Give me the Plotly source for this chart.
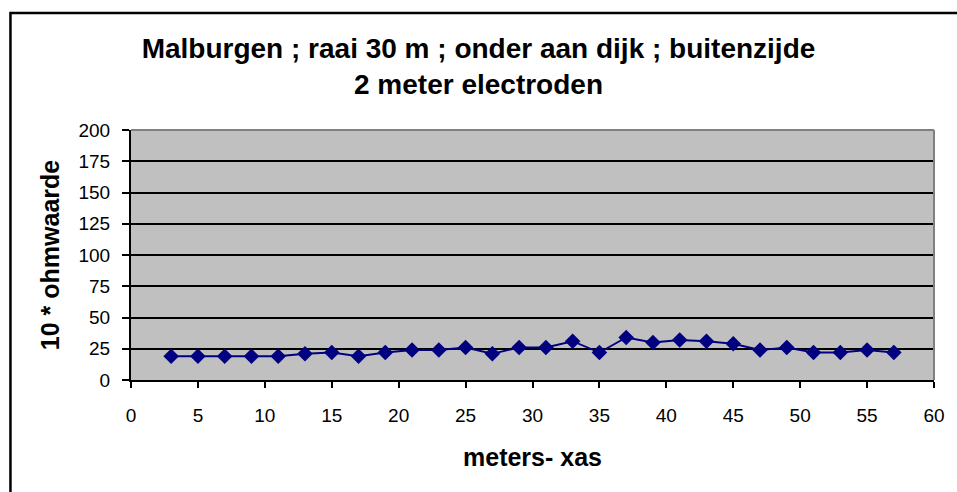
import plotly.graph_objects as go

x_m = [3, 5, 7, 9, 11, 13, 15, 17, 19, 21, 23, 25, 27, 29, 31, 33, 35, 37, 39, 41, 43, 45, 47, 49, 51, 53, 55, 57]
ohm10 = [19, 19, 19, 19, 19, 21, 22, 19, 22, 24, 24, 26, 21, 26, 26, 31, 22, 34, 30, 32, 31, 29, 24, 26, 22, 22, 24, 22]

title_text = "Malburgen ; raai 30 m ; onder aan dijk ; buitenzijde<br>2 meter electroden"
x_title = "meters- xas"
y_title = "10 * ohmwaarde"

FONT = "Liberation Sans, Arial, sans-serif"
W, H = 957, 492
L, R, T, B = 131, 937, 130, 380

fig = go.Figure()
fig.add_trace(go.Scatter(
    x=x_m, y=ohm10, mode="lines+markers",
    line=dict(color="#000080", width=1.8),
    marker=dict(symbol="diamond", size=12, color="#000080"),
    showlegend=False,
))

fig.update_layout(
    width=W, height=H,
    margin=dict(l=L, r=W - R, t=T, b=H - B),
    paper_bgcolor="white",
    plot_bgcolor="#C0C0C0",
    font=dict(family=FONT, color="black", size=19),
    title=dict(text="<b>" + title_text + "</b>", x=0.5, xanchor="center",
               y=1 - 58 / H, yanchor="middle",
               font=dict(family=FONT, size=28, color="black")),
    xaxis=dict(range=[0, 60], tickvals=list(range(0, 61, 5)),
               showgrid=False, zeroline=False,
               showline=True, linecolor="black", linewidth=2,
               ticks="outside", ticklen=6, tickcolor="black", tickwidth=1.5,
               tickfont=dict(size=19), ticklabelstandoff=11,
               title=dict(text="<b>" + x_title + "</b>", font=dict(size=25), standoff=24)),
    yaxis=dict(range=[0, 200], tickvals=list(range(0, 201, 25)),
               showgrid=True, gridcolor="black", gridwidth=1.5, zeroline=False,
               showline=True, linecolor="black", linewidth=2,
               ticks="outside", ticklen=7, tickcolor="black", tickwidth=1.5,
               tickfont=dict(size=19), ticklabelstandoff=8,
               title=dict(text="<b>" + y_title + "</b>", font=dict(size=25), standoff=12)),
    shapes=[
        dict(type="line", xref="paper", yref="paper", x0=0, x1=1, y0=1, y1=1,
             line=dict(color="#808080", width=2)),
        dict(type="line", xref="paper", yref="paper", x0=1, x1=1, y0=0, y1=1,
             line=dict(color="#808080", width=2)),
        dict(type="rect", xref="paper", yref="paper",
             x0=(10 - L) / (R - L), x1=(W + 5 - L) / (R - L),
             y0=(B - (H + 5)) / (B - T), y1=(B - 13) / (B - T),
             line=dict(color="black", width=2.5), layer="below"),
    ],
)

fig.write_html("out.html")
